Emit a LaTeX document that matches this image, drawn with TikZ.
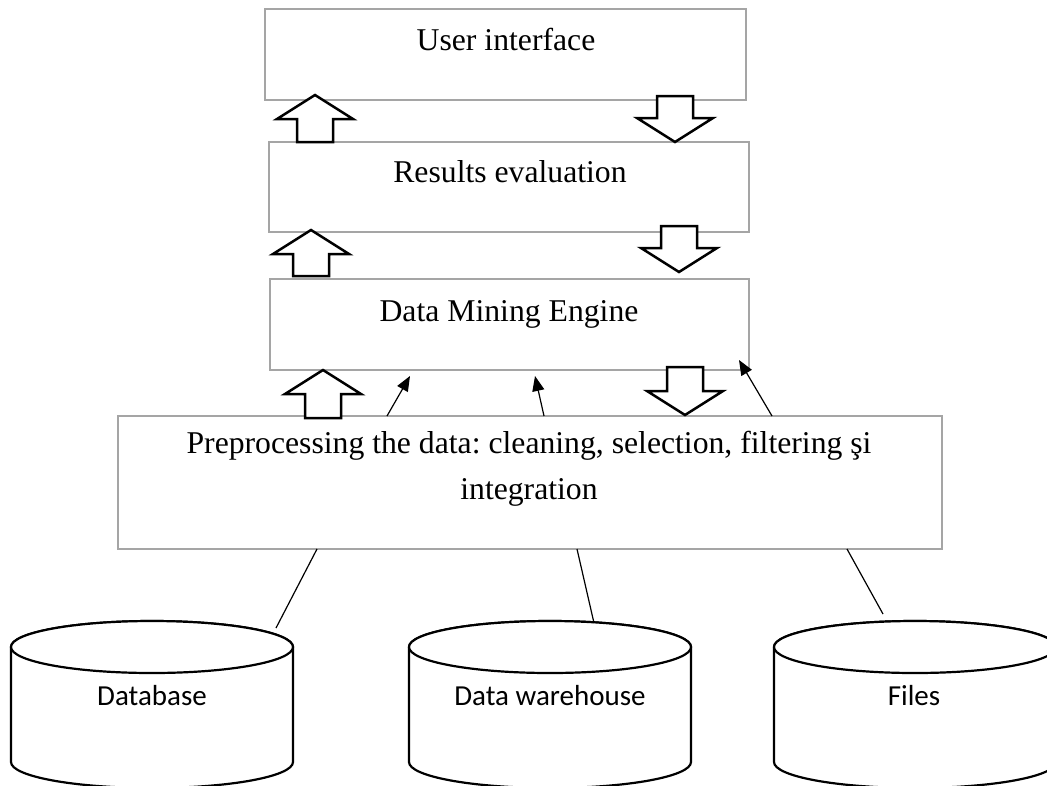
\documentclass[tikz,border=0pt]{standalone}
\usepackage{fontspec}
\setmainfont{Liberation Serif}
\newfontfamily\calib{Carlito}
\usetikzlibrary{calc,arrows.meta}
\frenchspacing
\definecolor{boxgray}{HTML}{A5A5A5}
\tikzset{
  box/.style={rectangle, draw=boxgray, line width=2.2pt, fill=white, inner sep=0pt, outer sep=0pt},
  lbl/.style={anchor=base, inner sep=0pt, font=\fontsize{31.7}{46}\selectfont},
  drumlbl/.style={anchor=base, inner sep=0pt, font=\calib\fontsize{29}{35}\selectfont},
  fat/.style={draw=black, fill=white, line width=2.5pt, line join=miter},
  thin/.style={draw=black, line width=1.2pt, -{Triangle[length=15pt,width=12pt]}},
  link/.style={draw=black, line width=1.2pt},
  drum/.style={draw=black, fill=white, line width=2.2pt},
}
% hollow block arrow from #1 (tail) to #2 (tip)
\newcommand\fatarrow[2]{%
  \coordinate (hb) at ($(#2)!24pt!(#1)$);
  \draw[fat] ($(#1)!18pt!90:(#2)$) -- ($(hb)!18pt!90:(#2)$) -- ($(hb)!38pt!90:(#2)$)
    -- (#2) -- ($(hb)!38pt!-90:(#2)$) -- ($(hb)!18pt!-90:(#2)$) -- ($(#1)!18pt!-90:(#2)$) -- cycle;}
% storage drum: #1 centre of the top ellipse, #2 length of the sides
\newcommand\storagedrum[2]{%
  \draw[drum] ([xshift=-141pt]#1) -- ++(0,#2)
    arc[start angle=180, end angle=360, x radius=141pt, y radius=26pt]
    -- ++(0,-#2) arc[start angle=0, end angle=180, x radius=141pt, y radius=26pt] -- cycle;
  \draw[drum] (#1) ellipse [x radius=141pt, y radius=26pt];}
\begin{document}
\begin{tikzpicture}[x=1pt, y=-1pt]
\useasboundingbox (0,0) rectangle (1047,785);
\clip (0,0) rectangle (1047,785);

% layers
\node[box, minimum width=481pt, minimum height=91pt] (ui) at (505.5,54.5) {};
\node[box, minimum width=480pt, minimum height=90pt] (re) at (509,187) {};
\node[box, minimum width=479pt, minimum height=91pt] (dme) at (509.5,324.5) {};
\node[box, minimum width=824pt, minimum height=133pt] (pp) at (530,482.5) {};

\node[lbl] (uit) at (506,50) {User interface};
\node[lbl] (ret) at (510,182) {Results evaluation};
\node[lbl] (dmet) at (509,321) {Data Mining Engine};
% the base anchor of a two-line node sits on its last line
\node[lbl, align=center] (ppt) at (529,499) {Preprocessing the data: cleaning, selection, filtering şi\\integration};

% data sources
\coordinate (dbc) at (152,647);
\coordinate (dwc) at (550,647);
\coordinate (flc) at (915,647);
\storagedrum{dbc}{115}
\storagedrum{dwc}{115}
\storagedrum{flc}{115}
\node[drumlbl] (db) at (152,705) {Database};
\node[drumlbl] (dw) at (550,705) {Data warehouse};
\node[drumlbl] (fl) at (914,705) {Files};

% links from the sources to preprocessing
\coordinate (dbe) at (276,628);
\coordinate (dwe) at (594,623);
\coordinate (fle) at (883,614);
\draw[link] ($(pp.south west)+(199,0)$) -- (dbe);
\draw[link] ($(pp.south west)+(459,0)$) -- (dwe);
\draw[link] ($(pp.south west)+(729,0)$) -- (fle);

% thin arrows into the engine
\draw[thin] ($(pp.north west)+(269,0)$) -- ($(dme.south west)+(140,6)$);
\draw[thin] ($(pp.north west)+(426,0)$) -- ($(dme.south west)+(265,6)$);
\draw[thin] ($(pp.north west)+(654,0)$) -- ($(dme.south west)+(469,-10)$);

% block arrows between the layers
\coordinate (u1a) at ($(re.north west)+(46,0)$);
\coordinate (u1b) at ($(ui.south west)+(50,-5)$);
\coordinate (u2a) at ($(dme.north west)+(41,-3)$);
\coordinate (u2b) at ($(re.south west)+(42,-2)$);
\coordinate (u3a) at ($(pp.north west)+(205,2)$);
\coordinate (u3b) at ($(dme.south west)+(53,0)$);
\coordinate (d1a) at ($(ui.south west)+(410,-4)$);
\coordinate (d1b) at ($(re.north west)+(406,0)$);
\coordinate (d2a) at ($(re.south west)+(410,-6)$);
\coordinate (d2b) at ($(dme.north west)+(409,-7)$);
\coordinate (d3a) at ($(dme.south west)+(415,-3)$);
\coordinate (d3b) at ($(pp.north west)+(567,-1)$);
\fatarrow{u1a}{u1b}
\fatarrow{u2a}{u2b}
\fatarrow{u3a}{u3b}
\fatarrow{d1a}{d1b}
\fatarrow{d2a}{d2b}
\fatarrow{d3a}{d3b}
\end{tikzpicture}
\end{document}
